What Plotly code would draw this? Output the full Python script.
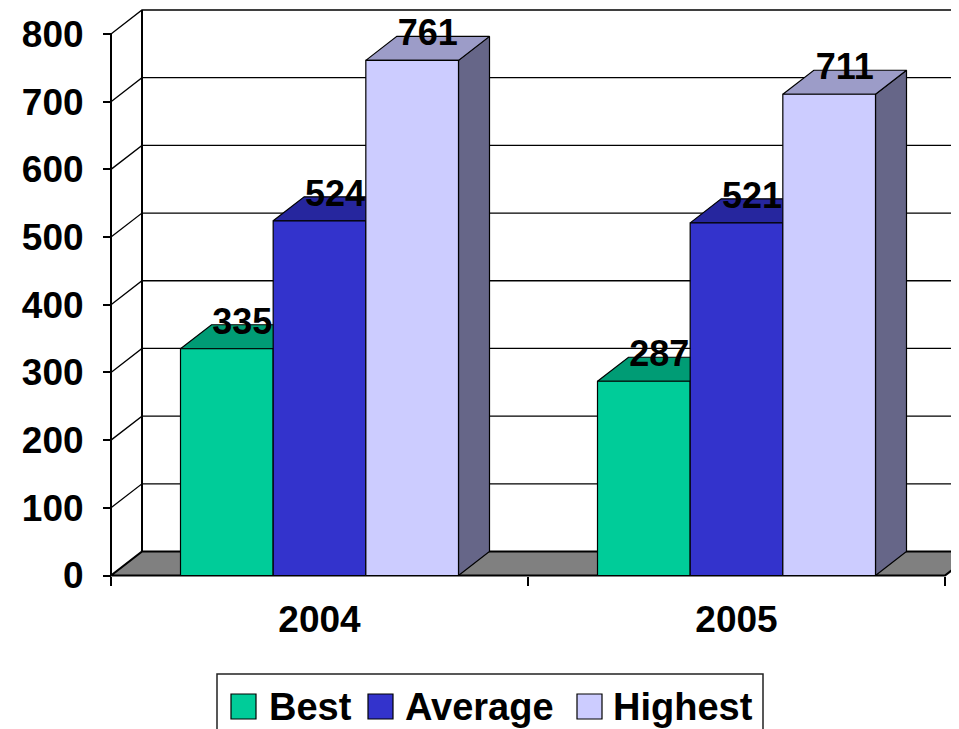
import plotly.graph_objects as go

# ---------------- data ----------------
years = ['2004', '2005']
series_names = ['Best', 'Average', 'Highest']
best = [335, 287]
average = [524, 521]
highest = [761, 711]
y_ticks = [0, 100, 200, 300, 400, 500, 600, 700, 800]

# ---------------- style ----------------
front_colors = ['#00CC99', '#3333CC', '#CCCCFF']
top_colors = ['#009C75', '#26269E', '#9C9CC8']
side_colors = ['#006B50', '#1C1C6E', '#666688']
FONT = 'Liberation Sans, Arial, sans-serif'

OFF = 8  # default page body margin of the html page
W, H = 959 - OFF, 729 - OFF
ML, MR, MT, MB = 109 - OFF, 0, 0, 150
PLOT_W = W - ML - MR
PLOT_H = H - MT - MB
ORIGIN_X_PX, ORIGIN_Y_PX = 111.0 - OFF, 575.5 - OFF   # front-plane origin (figure px)
PX_PER_CAT = 417.0
PX_PER_VAL = 541.5 / 800.0
DX = 31.0 / PX_PER_CAT
DY = 24.0 / PX_PER_VAL
GROUP = 2.0 / 3.0
BAR_W = GROUP / len(series_names)

x_range = [(ML - ORIGIN_X_PX) / PX_PER_CAT, (W - MR - ORIGIN_X_PX) / PX_PER_CAT]
y_range = [-(H - MB - ORIGIN_Y_PX) / PX_PER_VAL, (ORIGIN_Y_PX - MT) / PX_PER_VAL]

values = [best, average, highest]
n_cat = len(years)
y_max = y_ticks[-1]

fig = go.Figure()


def poly(xs, ys, fill, lw=1.0, lc='black'):
    fig.add_trace(go.Scatter(
        x=list(xs) + [xs[0]], y=list(ys) + [ys[0]], mode='lines', fill='toself',
        fillcolor=fill, line=dict(color=lc, width=lw), hoverinfo='skip', showlegend=False))


def lines(xs, ys, lw=1.0):
    fig.add_trace(go.Scatter(x=xs, y=ys, mode='lines', line=dict(color='black', width=lw),
                             hoverinfo='skip', showlegend=False, connectgaps=False))


# back-wall gridlines + side-wall diagonals
gx, gy = [], []
for t in y_ticks[1:]:
    gx += [0, DX, n_cat + DX, None]
    gy += [t, t + DY, t + DY, None]
lines(gx, gy, 1.3)

# floor
poly([0, n_cat, n_cat + DX, DX], [0, 0, DY, DY], '#808080', 2.2)

# wall edges
lines([DX, DX, None, 0, 0], [DY, y_max + DY, None, 0, y_max], 2)

# bars (side, top, front faces) + value labels
for i in range(n_cat):
    for j, name in enumerate(series_names):
        v = values[j][i]
        x0 = i + (1 - GROUP) / 2 + j * BAR_W
        x1 = x0 + BAR_W
        poly([x1, x1 + DX, x1 + DX, x1], [0, DY, v + DY, v], side_colors[j], 1.2)
        poly([x0, x1, x1 + DX, x0 + DX], [v, v, v + DY, v + DY], top_colors[j], 1.2)
        poly([x0, x1, x1, x0], [0, 0, v, v], front_colors[j], 1.2)
        fig.add_trace(go.Scatter(
            x=[(x0 + x1) / 2 + DX / 2], y=[v + DY], mode='text', text=[str(v)],
            textposition='middle center',
            textfont=dict(family=FONT, size=36, color='black', weight='bold'),
            hoverinfo='skip', showlegend=False))

# ---------------- legend (custom, large swatches) ----------------
def px_x(p):
    return (p - OFF - ML) / PLOT_W


def px_y(p):
    return (H - MB - (p - OFF)) / PLOT_H


shapes = [dict(type='rect', xref='paper', yref='paper', x0=px_x(217), x1=px_x(763),
               y0=px_y(674), y1=px_y(745), line=dict(color='#222222', width=1.5),
               fillcolor='white', layer='above')]
annotations = []
sw_left = [231, 368, 577]
txt_left = [267, 403, 611]
for j, name in enumerate(series_names):
    shapes.append(dict(type='rect', xref='paper', yref='paper',
                       x0=px_x(sw_left[j]), x1=px_x(sw_left[j] + 25),
                       y0=px_y(694), y1=px_y(719),
                       line=dict(color='black', width=1.2), fillcolor=front_colors[j],
                       layer='above'))
    annotations.append(dict(xref='paper', yref='paper', x=px_x(txt_left[j]), y=px_y(707),
                            xanchor='left', yanchor='middle', showarrow=False, text=name,
                            font=dict(family=FONT, size=38, color='black', weight='bold')))

fig.update_layout(
    width=W, height=H, margin=dict(l=ML, r=MR, t=MT, b=MB, pad=0),
    paper_bgcolor='white', plot_bgcolor='white', showlegend=False,
    shapes=shapes, annotations=annotations,
    xaxis=dict(range=x_range, showgrid=False, zeroline=False, showline=False,
               tickmode='array', tickvals=[i + 0.5 for i in range(n_cat)], ticktext=years,
               ticks='', tickfont=dict(family=FONT, size=37, color='black', weight='bold'),
               ticklabelstandoff=18,
               anchor='free', position=(H - MB - ORIGIN_Y_PX) / PLOT_H,
               minor=dict(tickmode='array', tickvals=list(range(n_cat + 1)), ticks='outside',
                          ticklen=9, tickwidth=1.5, tickcolor='black', showgrid=False)),
    yaxis=dict(range=y_range, showgrid=False, zeroline=False, showline=False,
               tickmode='array', tickvals=y_ticks, ticks='outside', ticklen=8,
               tickwidth=1.5, tickcolor='black',
               tickfont=dict(family=FONT, size=37, color='black', weight='bold'),
               ticklabelstandoff=12,
               anchor='free', position=(ORIGIN_X_PX - ML) / PLOT_W),
)

fig.write_html('out.html')
